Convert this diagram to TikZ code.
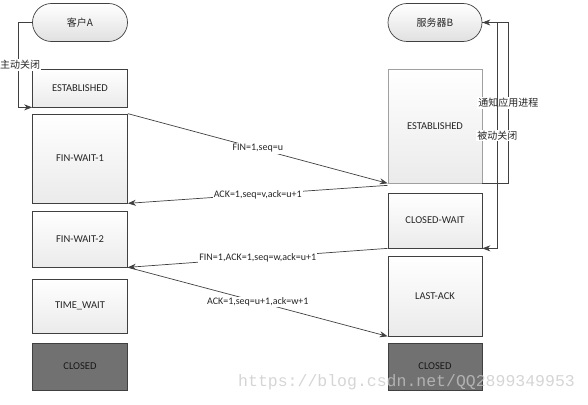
\documentclass[tikz,border=0pt]{standalone}
\usepackage{fontspec}
\setmainfont{Carlito}
\newfontfamily\cjk{Noto Sans CJK SC}
\newfontfamily\wmfont{Liberation Mono}
\usepackage{xcolor}
\usepackage{tikz}
\usetikzlibrary{positioning, arrows.meta, shapes.misc}
\definecolor{lineclr}{HTML}{404040}
\definecolor{darkbox}{HTML}{717171}
\definecolor{paleline}{HTML}{A0A0A0}
\tikzset{
  state/.style={draw=lineclr, line width=0.7pt, top color=white, bottom color=black!8,
    minimum width=95pt, inner sep=0pt, font=\fontsize{10.5}{12}\selectfont, text=black!85},
  endstate/.style={state, top color=darkbox, bottom color=darkbox, fill=darkbox, text=black!90},
  actor/.style={state, rounded rectangle, minimum height=38pt, bottom color=black!12, font=\cjk\fontsize{10}{12}\selectfont},
  msg/.style={draw=lineclr, line width=0.7pt, -{Stealth[length=8pt,width=6pt]}},
  lbl/.style={fill=white, inner sep=1pt, font=\fontsize{10}{11}\selectfont, text=black!85},
  cjklbl/.style={lbl, font=\cjk\fontsize{10}{12}\selectfont}
}

\begin{document}
\begin{tikzpicture}[x=1pt, y=-1pt]
\useasboundingbox (0,0) rectangle (588,404);
% Client side
\node[actor] (cliA) at (80,22.5) {客户A};
\node[state, minimum height=38pt] (estA) at (80,88) {ESTABLISHED};
\node[state, minimum height=89pt] (fwone) at (80,158.5) {FIN-WAIT-1};
\node[state, minimum height=56pt] (fwtwo) at (80,239) {FIN-WAIT-2};
\node[state, minimum height=54pt] (twait) at (80,306) {TIME\_WAIT};
\node[endstate, minimum height=47pt] (closA) at (80,366.5) {CLOSED};
% Server side
\node[actor, minimum width=94pt] (srvB) at (435,22.5) {服务器B};
\node[state, draw=paleline, minimum width=94pt, minimum height=114pt] (estB) at (435,126) {ESTABLISHED};
\node[state, minimum width=94pt, minimum height=55pt] (cwait) at (435,220.5) {CLOSED-WAIT};
\node[state, minimum width=94pt, minimum height=80pt] (lack) at (435,296) {LAST-ACK};
\node[endstate, minimum width=94pt, minimum height=47pt] (closB) at (435,366.5) {CLOSED};
% Local transitions
\draw[msg] (cliA.west) -- ++(-14,0) |- (estA.south west) node[cjklbl, pos=0.25, xshift=2pt] {主动关闭};
\draw[msg] (estB.south east) -- ++(26,0) |- (srvB.east) node[cjklbl, pos=0.25] {通知应用进程};
\draw[msg] (srvB.east) -- ++(15,0) |- (cwait.south east) node[cjklbl, pos=0.25] {被动关闭};
% Segments
\draw[msg] (fwone.north east) -- (estB.south west) node[lbl, midway] {FIN=1,seq=u};
\draw[msg] ([yshift=-2pt]estB.south west) -- (fwone.south east) node[lbl, midway] {ACK=1,seq=v,ack=u+1};
\draw[msg] (cwait.south west) -- (fwtwo.south east) node[lbl, midway] {FIN=1,ACK=1,seq=w,ack=u+1};
\draw[msg] (fwtwo.south east) -- (lack.south west) node[lbl, midway] {ACK=1,seq=u+1,ack=w+1};
% Watermark
\node[font=\wmfont\fontsize{16.5}{18}\selectfont, text=black!22, opacity=0.75, anchor=west, inner sep=0pt] (wmark) at (238,382) {https://blog.csdn.net/QQ2899349953};
\end{tikzpicture}
\end{document}
